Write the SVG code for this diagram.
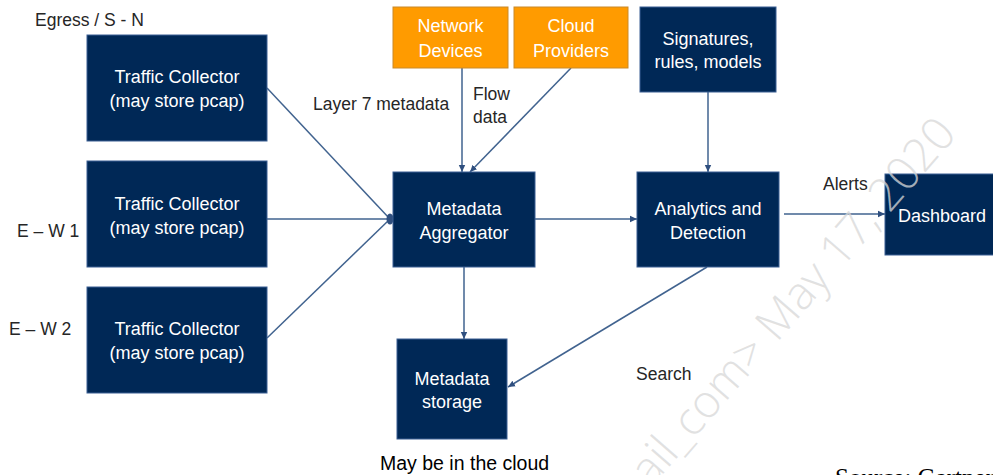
<svg xmlns="http://www.w3.org/2000/svg" width="993" height="475" viewBox="0 0 993 475">
  <style>
    .navy { fill: #002856; stroke: #3b5f93; stroke-width: 1; }
    .orange { fill: #ff9b00; stroke: #c98a2a; stroke-width: 1; }
    .bt { font-family: "Liberation Sans", Arial, sans-serif; font-size: 18px; fill: #ffffff; text-anchor: middle; }
    .lbl { font-family: "Liberation Sans", Arial, sans-serif; font-size: 17.5px; fill: #262626; }
    .conn { stroke: #41638f; stroke-width: 1.5; fill: none; }
    .arr { marker-end: url(#ah); }
  </style>
  <defs>
    <marker id="ah" markerUnits="userSpaceOnUse" markerWidth="8" markerHeight="8" refX="7" refY="4" orient="auto">
      <path d="M0,0.8 L7,4 L0,7.2 Z" fill="#2f4f7f"/>
    </marker>
  </defs>
  <rect width="993" height="475" fill="#ffffff"/>

  <g id="connectors">
    <path class="conn" d="M267,88 L389,218"/>
    <path class="conn" d="M267,219 L389,219"/>
    <path class="conn" d="M267,338 L389,220"/>
    <ellipse cx="390" cy="219" rx="3.5" ry="5.5" fill="#2f4f7f"/>
    <path class="conn arr" d="M462,68 L462,172"/>
    <path class="conn arr" d="M571,68 L470,172"/>
    <path class="conn arr" d="M535,219 L637,219"/>
    <path class="conn arr" d="M708,92 L708,172"/>
    <path class="conn arr" d="M784,214 L885,214"/>
    <path class="conn arr" d="M464,267 L464,339"/>
    <path class="conn arr" d="M707,267 L508,387"/>
  </g>

  <g id="tc1">
    <rect class="navy" x="87" y="35" width="180" height="106"/>
    <text class="bt" x="177" y="83">Traffic Collector</text>
    <text class="bt" x="177" y="107">(may store pcap)</text>
  </g>
  <g id="tc2">
    <rect class="navy" x="87" y="161" width="180" height="106"/>
    <text class="bt" x="177" y="210">Traffic Collector</text>
    <text class="bt" x="177" y="234">(may store pcap)</text>
  </g>
  <g id="tc3">
    <rect class="navy" x="87" y="287" width="180" height="106"/>
    <text class="bt" x="177" y="335">Traffic Collector</text>
    <text class="bt" x="177" y="359">(may store pcap)</text>
  </g>
  <g id="network-devices">
    <rect class="orange" x="393" y="7" width="115" height="61"/>
    <text class="bt" x="450.5" y="32">Network</text>
    <text class="bt" x="450.5" y="57">Devices</text>
  </g>
  <g id="cloud-providers">
    <rect class="orange" x="514" y="7" width="114" height="61"/>
    <text class="bt" x="571" y="32">Cloud</text>
    <text class="bt" x="571" y="57">Providers</text>
  </g>
  <g id="signatures">
    <rect class="navy" x="640" y="7" width="136" height="85"/>
    <text class="bt" x="708" y="45">Signatures,</text>
    <text class="bt" x="708" y="68">rules, models</text>
  </g>
  <g id="aggregator">
    <rect class="navy" x="393" y="172" width="142" height="95"/>
    <text class="bt" x="464" y="215">Metadata</text>
    <text class="bt" x="464" y="239">Aggregator</text>
  </g>
  <g id="analytics">
    <rect class="navy" x="637" y="172" width="142" height="95"/>
    <text class="bt" x="708" y="215">Analytics and</text>
    <text class="bt" x="708" y="239">Detection</text>
  </g>
  <g id="dashboard">
    <rect class="navy" x="885" y="174" width="112" height="81"/>
    <text class="bt" x="942" y="222">Dashboard</text>
  </g>
  <g id="storage">
    <rect class="navy" x="397" y="339" width="110" height="100"/>
    <text class="bt" x="452" y="385">Metadata</text>
    <text class="bt" x="452" y="408">storage</text>
  </g>

  <g id="labels">
    <text class="lbl" x="35" y="26">Egress / S - N</text>
    <text class="lbl" x="17" y="237">E – W 1</text>
    <text class="lbl" x="9" y="335">E – W 2</text>
    <text class="lbl" x="313" y="110">Layer 7 metadata</text>
    <text class="lbl" x="473" y="100">Flow</text>
    <text class="lbl" x="473" y="123">data</text>
    <text class="lbl" x="823" y="190">Alerts</text>
    <text class="lbl" x="636" y="380">Search</text>
    <text x="380" y="470" font-family="'Liberation Sans', Arial, sans-serif" font-size="19.5" fill="#000000">May be in the cloud</text>
    <text x="835" y="486" font-family="'Liberation Serif', 'Times New Roman', serif" font-size="25" fill="#000000">Source: Gartner</text>
  </g>

  <text transform="translate(651,488) rotate(-49)" font-family="'Open Sans', 'Liberation Sans', sans-serif" font-weight="300" font-size="46" fill="#d8d8d8" fill-opacity="0.75">ail_com&gt; May 17, 2020</text>
</svg>
